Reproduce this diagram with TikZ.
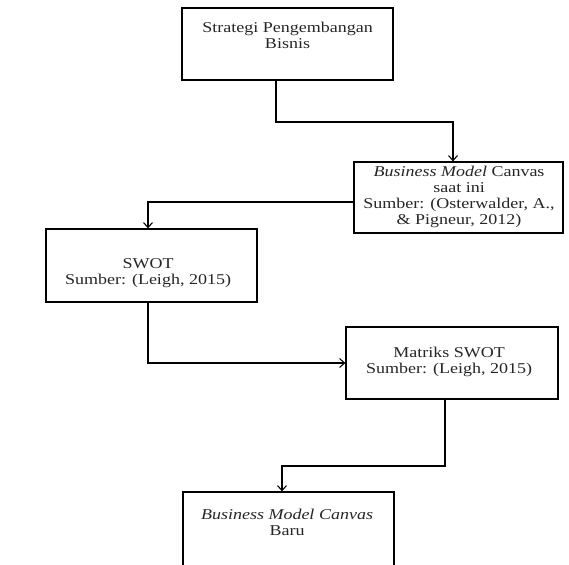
\documentclass[tikz,border=0pt]{standalone}
\usepackage{fontspec}
\setmainfont[FakeStretch=1.2]{Liberation Serif}
\usetikzlibrary{arrows.meta}
\begin{document}
\begin{tikzpicture}[x=1pt,y=-1pt,
 box/.style={draw, line width=1.3pt, minimum height=72pt, inner sep=0pt},
 txt/.style={align=center, font=\fontsize{15}{16}\selectfont, inner sep=0pt, text=black!85},
 arr/.style={line width=1.1pt, -{Straight Barb[length=5pt,width=9pt]}}]
\useasboundingbox (0,0) rectangle (569,564);
\clip (0,0) rectangle (569,564);
% boxes
\node[box, minimum width=211pt] (b1) at (287.5,44) {};
\node[box, minimum width=209pt, minimum height=71pt] (b2) at (458.5,197.5) {};
\node[box, minimum width=211pt, minimum height=73pt] (b3) at (151.5,265.5) {};
\node[box, minimum width=212pt] (b4) at (452,363) {};
\node[box, minimum width=211pt, minimum height=100pt] (b5) at (288.5,542) {};
% texts
\node[txt] (t1) at (287.5,35) {Strategi Pengembangan\\Bisnis};
\node[txt] (t2) at (459,197) {\textit{Business Model} Canvas\\saat ini\\Sumber: (Osterwalder, A.,\\\& Pigneur, 2012)};
\node[txt] (t3) at (148,273) {SWOT\\Sumber: (Leigh, 2015)};
\node[txt] (t4) at (449,362) {Matriks SWOT\\Sumber: (Leigh, 2015)};
\node[txt] (t5) at (287,522) {\textit{Business Model Canvas}\\Baru};
% connectors
\coordinate (k1) at (276,122);
\coordinate (k2) at (453,122);
\draw[arr] (b1.south -| k1) -- (k1) -- (k2) -- (k2 |- b2.north);
\coordinate (k3) at (148,202);
\draw[arr] (b2.west |- k3) -- (k3) -- (k3 |- b3.north);
\coordinate (k4) at (148,363);
\draw[arr] (b3.south -| k4) -- (k4) -- (b4.west);
\coordinate (k5) at (445,466);
\coordinate (k6) at (282,466);
\draw[arr] (b4.south -| k5) -- (k5) -- (k6) -- (k6 |- b5.north);
\end{tikzpicture}
\end{document}
